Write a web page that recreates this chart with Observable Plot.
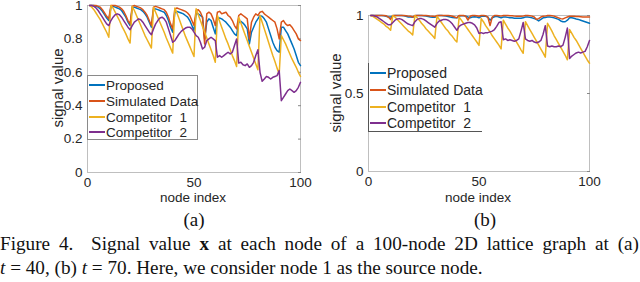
<!DOCTYPE html>
<html>
<head>
<meta charset="utf-8">
<script src="https://cdn.jsdelivr.net/npm/d3@7"></script>
<script src="https://cdn.jsdelivr.net/npm/@observablehq/plot@0.6"></script>
<style>
  html, body { margin: 0; padding: 0; background: #fff; }
  #root { position: relative; width: 640px; height: 282px; overflow: hidden; font-family: "Liberation Sans", Arial, sans-serif; color: #262626; }
  .abs { position: absolute; }
  .panel svg { overflow: visible; }
  .ylab { position: absolute; font-size: 15px; white-space: nowrap; transform: translate(-50%, -50%) rotate(-90deg); }
  .xlab { position: absolute; font-size: 13.5px; white-space: nowrap; transform: translate(-50%, -50%); }
  .sub { position: absolute; font-family: "Liberation Serif", "Times New Roman", serif; font-size: 19px; transform: translate(-50%, -50%); color: #111; }
  .cap { position: absolute; left: 0; font-family: "Liberation Serif", "Times New Roman", serif; font-size: 19.2px; line-height: 22px; white-space: nowrap; color: #111; }
  .cap.just { width: 639px; text-align: justify; text-align-last: justify; white-space: normal; }
  .legend { position: absolute; background: #fff; font-size: 13.5px; }
  .legend .row { position: absolute; left: 0; height: 16px; display: flex; align-items: center; white-space: nowrap; }
  .legend .sw { display: inline-block; width: 16px; height: 0; border-top: 2px solid; margin-right: 1px; }
</style>
</head>
<body>
<div id="root"></div>
<script>
// ---------------- data ----------------
const seriesNames = ["Proposed", "Simulated Data", "Competitor  1", "Competitor  2"];
const seriesColors = ["#0072BD", "#D95319", "#EDB120", "#7E2F8E"];
const nodeIndex = d3.range(1, 101);
const xTicks = [0, 50, 100];
const yTicksA = [0, 0.2, 0.4, 0.6, 0.8, 1];
const yTicksB = [0, 0.5, 1];
const subLabels = ["(a)", "(b)"];

// panel (a): t = 40
const proposedA = [
 1.00,1.00,1.00,0.995,0.99,0.98,0.965,0.945,0.925,0.91,
 0.99,0.995,0.99,0.985,0.98,0.97,0.95,0.93,0.90,0.88,
 0.985,0.99,0.985,0.98,0.975,0.965,0.95,0.93,0.90,0.87,
 0.975,0.98,0.975,0.97,0.965,0.96,0.94,0.91,0.87,0.84,
 0.96,0.965,0.96,0.955,0.95,0.94,0.93,0.91,0.88,0.85,
 0.95,0.95,0.94,0.93,0.80,0.90,0.92,0.91,0.87,0.83,
 0.92,0.925,0.92,0.91,0.90,0.885,0.87,0.85,0.83,0.82,
 0.90,0.905,0.895,0.88,0.86,0.77,0.84,0.87,0.90,0.92,
 0.94,0.935,0.92,0.90,0.86,0.82,0.78,0.75,0.73,0.72,
 0.87,0.87,0.85,0.83,0.80,0.77,0.74,0.70,0.66,0.64];
const simulatedA = [
 1.00,1.00,1.00,1.00,0.995,0.99,0.975,0.955,0.935,0.92,
 1.00,1.00,1.00,0.995,0.99,0.98,0.965,0.94,0.91,0.89,
 0.995,1.00,0.995,0.99,0.985,0.975,0.96,0.94,0.91,0.88,
 0.99,0.995,0.99,0.985,0.98,0.975,0.96,0.93,0.89,0.86,
 0.98,0.985,0.98,0.975,0.97,0.965,0.955,0.94,0.91,0.88,
 0.97,0.975,0.96,0.93,0.77,0.95,0.96,0.95,0.92,0.88,
 0.96,0.965,0.95,0.955,0.96,0.94,0.93,0.91,0.88,0.86,
 0.94,0.95,0.94,0.93,0.92,0.80,0.90,0.93,0.95,0.94,
 0.96,0.965,0.95,0.94,0.93,0.92,0.91,0.90,0.86,0.80,
 0.90,0.91,0.89,0.88,0.885,0.87,0.85,0.83,0.80,0.79];
const competitor1A = [
 1.00,0.99,0.975,0.955,0.935,0.915,0.89,0.865,0.84,0.81,
 1.00,0.985,0.96,0.935,0.91,0.88,0.855,0.83,0.80,0.775,
 0.995,0.97,0.94,0.91,0.88,0.85,0.82,0.795,0.77,0.745,
 0.99,0.96,0.93,0.90,0.87,0.84,0.805,0.775,0.745,0.715,
 0.985,0.955,0.92,0.885,0.85,0.815,0.785,0.755,0.725,0.695,
 0.98,0.945,0.91,0.875,0.84,0.805,0.77,0.735,0.70,0.66,
 0.94,0.905,0.87,0.835,0.80,0.77,0.735,0.70,0.67,0.635,
 0.93,0.895,0.86,0.825,0.79,0.755,0.72,0.685,0.65,0.615,
 0.94,0.90,0.86,0.82,0.78,0.74,0.70,0.665,0.625,0.59,
 0.82,0.795,0.77,0.74,0.71,0.68,0.655,0.63,0.60,0.575];
const competitor2A = [
 1.00,1.00,0.995,0.985,0.97,0.95,0.93,0.91,0.89,0.88,
 0.91,0.93,0.945,0.95,0.945,0.93,0.91,0.89,0.87,0.855,
 0.88,0.90,0.91,0.92,0.915,0.90,0.88,0.86,0.84,0.825,
 0.86,0.89,0.91,0.925,0.93,0.92,0.90,0.86,0.82,0.78,
 0.79,0.81,0.83,0.845,0.855,0.865,0.87,0.87,0.86,0.84,
 0.82,0.81,0.78,0.74,0.75,0.79,0.80,0.81,0.80,0.79,
 0.69,0.70,0.69,0.70,0.71,0.72,0.71,0.72,0.76,0.80,
 0.655,0.66,0.645,0.64,0.65,0.63,0.64,0.66,0.70,0.735,
 0.60,0.546,0.56,0.575,0.57,0.56,0.57,0.575,0.58,0.61,
 0.43,0.45,0.47,0.49,0.50,0.49,0.48,0.49,0.51,0.54];

// panel (b): t = 70
const proposedB = [
 1,1,1,1,1,1,0.998,0.995,0.99,0.99,
 0.998,1,1,1,1,0.998,0.995,0.99,0.99,0.988,
 0.998,1,1,1,0.998,0.996,0.993,0.99,0.988,0.988,
 0.998,1,1,0.998,0.996,0.994,0.99,0.987,0.985,0.985,
 0.996,0.998,0.998,0.996,0.99,0.985,0.99,0.992,0.99,0.985,
 0.995,0.997,0.995,0.99,0.97,0.985,0.992,0.995,0.99,0.985,
 0.99,0.99,0.988,0.985,0.985,0.983,0.982,0.982,0.983,0.985,
 0.99,0.99,0.988,0.985,0.98,0.975,0.965,0.975,0.985,0.987,
 0.99,0.99,0.988,0.985,0.98,0.975,0.965,0.96,0.96,0.97,
 0.985,0.985,0.982,0.978,0.975,0.97,0.965,0.96,0.955,0.95];
const simulatedB = [
 1,1,1,1,1,1,1,0.998,0.99,0.975,
 1,1,1,1,1,1,0.998,0.996,0.995,0.99,
 1,1,1,1,1,1,0.998,0.996,0.995,0.993,
 1,1,1,1,1,1,0.998,0.995,0.99,0.985,
 1,1,1,0.995,0.97,0.995,1,1,0.998,0.995,
 1,1,0.998,0.99,0.935,0.99,1,1,0.998,0.996,
 1,1,1,0.998,0.998,0.996,0.995,0.995,0.995,0.996,
 1,1,0.998,0.996,0.99,0.975,0.98,0.99,0.995,0.996,
 1,1,0.998,0.996,0.99,0.985,0.98,0.978,0.985,0.99,
 0.995,0.995,0.995,0.993,0.993,0.992,0.99,0.99,0.99,0.99];
const competitor1B = [
 1.00,0.995,0.985,0.975,0.965,0.955,0.945,0.93,0.92,0.905,
 1.00,0.99,0.975,0.96,0.945,0.93,0.915,0.90,0.89,0.875,
 1.00,0.985,0.97,0.95,0.935,0.915,0.90,0.885,0.87,0.853,
 0.995,0.975,0.955,0.935,0.915,0.90,0.88,0.865,0.845,0.83,
 0.99,0.97,0.95,0.93,0.91,0.89,0.87,0.85,0.83,0.808,
 0.98,0.96,0.935,0.915,0.895,0.87,0.85,0.83,0.81,0.786,
 0.97,0.945,0.92,0.90,0.875,0.85,0.83,0.805,0.78,0.758,
 0.96,0.935,0.91,0.885,0.86,0.835,0.81,0.785,0.76,0.733,
 0.95,0.925,0.90,0.87,0.845,0.82,0.795,0.77,0.745,0.716,
 0.91,0.885,0.86,0.84,0.815,0.79,0.765,0.74,0.715,0.694];
const competitor2B = [
 1.00,1.00,0.995,0.99,0.98,0.97,0.96,0.95,0.94,0.94,
 0.955,0.97,0.978,0.98,0.975,0.965,0.955,0.945,0.94,0.935,
 0.96,0.975,0.98,0.98,0.975,0.965,0.955,0.945,0.935,0.925,
 0.95,0.965,0.97,0.975,0.975,0.97,0.96,0.945,0.925,0.905,
 0.93,0.94,0.945,0.95,0.955,0.955,0.95,0.94,0.92,0.885,
 0.89,0.885,0.89,0.89,0.895,0.90,0.91,0.93,0.955,0.96,
 0.845,0.85,0.84,0.845,0.84,0.835,0.84,0.85,0.90,0.955,
 0.85,0.84,0.835,0.84,0.83,0.825,0.83,0.84,0.88,0.935,
 0.805,0.80,0.805,0.80,0.80,0.805,0.80,0.81,0.86,0.92,
 0.725,0.74,0.75,0.76,0.765,0.76,0.765,0.77,0.80,0.84];

const panelA = [proposedA, simulatedA, competitor1A, competitor2A];
const panelB = [proposedB, simulatedB, competitor1B, competitor2B];

// ---------------- drawing ----------------
const root = document.getElementById("root");
const FONT = '"Liberation Sans", Arial, sans-serif';
const fmt = d => String(d);

function makePanel(seriesList, opts) {
  const table = [];
  seriesList.forEach((vals, si) => vals.forEach((v, i) => table.push({node: nodeIndex[i], value: v, series: seriesNames[si]})));
  const lines = seriesNames.map((name, si) =>
    Plot.line(table.filter(d => d.series === name), {x: "node", y: "value", stroke: seriesColors[si], strokeWidth: 1.5}));
  return Plot.plot({
    width: opts.width, height: opts.height,
    marginLeft: opts.ml, marginRight: opts.mr, marginTop: opts.mt, marginBottom: opts.mb,
    x: {domain: [0, 100], ticks: xTicks, label: null},
    y: {domain: [0, 1], ticks: opts.yTicks, label: null},
    style: {fontFamily: FONT, fontSize: "13.5px", color: "#262626", background: "transparent", overflow: "visible"},
    marks: [
      Plot.frame({stroke: "#b0b0b0", strokeWidth: 0.8}),
      Plot.axisX({ticks: xTicks, tickSize: 0, tickPadding: 5, fontSize: 13.5, tickFormat: fmt}),
      Plot.axisY({ticks: opts.yTicks, tickSize: 0, tickPadding: 5, fontSize: 13.5, tickFormat: fmt}),
      Plot.axisY({ticks: opts.yTicks, anchor: "right", tickSize: -3, tickFormat: () => "", stroke: "#888"}),
      ...lines
    ]
  });
}

function place(el, left, top) {
  const wrap = document.createElement("div");
  wrap.className = "abs panel";
  wrap.style.left = left + "px";
  wrap.style.top = top + "px";
  wrap.appendChild(el);
  root.appendChild(wrap);
}

place(makePanel(panelA, {width: 320, height: 190, ml: 87, mr: 20, mt: 5, mb: 18, yTicks: yTicksA}), 0, 0);
place(makePanel(panelB, {width: 320, height: 190, ml: 48, mr: 51, mt: 15, mb: 19, yTicks: yTicksB}), 320, 0);

function addText(cls, html, x, y) {
  const d = document.createElement("div");
  d.className = cls;
  d.innerHTML = html;
  d.style.left = x + "px";
  d.style.top = y + "px";
  root.appendChild(d);
  return d;
}

addText("ylab", "signal value", 57, 88);
addText("ylab", "signal value", 335, 93);
addText("xlab", "node index", 193, 197);
addText("xlab", "node index", 478, 197);
addText("sub", subLabels[0], 194, 220);
addText("sub", subLabels[1], 485, 220);

function addLegend(left, top, w, h, rowYs, style) {
  const lg = document.createElement("div");
  lg.className = "legend";
  lg.style.left = left + "px";
  lg.style.top = top + "px";
  lg.style.width = w + "px";
  lg.style.height = h + "px";
  Object.assign(lg.style, style);
  seriesNames.forEach((name, i) => {
    const r = document.createElement("div");
    r.className = "row";
    r.style.top = (rowYs[i] - 8) + "px";
    r.style.left = "1px";
    r.innerHTML = `<span class="sw" style="border-color:${seriesColors[i]}"></span><span style="white-space:pre">${name}</span>`;
    lg.appendChild(r);
  });
  root.appendChild(lg);
}
addLegend(87, 75, 111, 65, [9, 25, 41, 56], {border: "1px solid #8a8a8a", boxSizing: "border-box", fontSize: "13.5px"});
addLegend(368, 63, 114, 69, [10, 27, 44, 60], {borderLeft: "1.5px solid #555", borderBottom: "1.5px solid #555", boxSizing: "border-box", fontSize: "14px"});

addText("cap just", 'Figure 4.&nbsp; Signal value <b>x</b> at each node of a 100-node 2D lattice graph at (a)', 0, 233);
addText("cap", '<i>t</i> = 40, (b) <i>t</i> = 70. Here, we consider node 1 as the source node.', 0, 257);
</script>
</body>
</html>
